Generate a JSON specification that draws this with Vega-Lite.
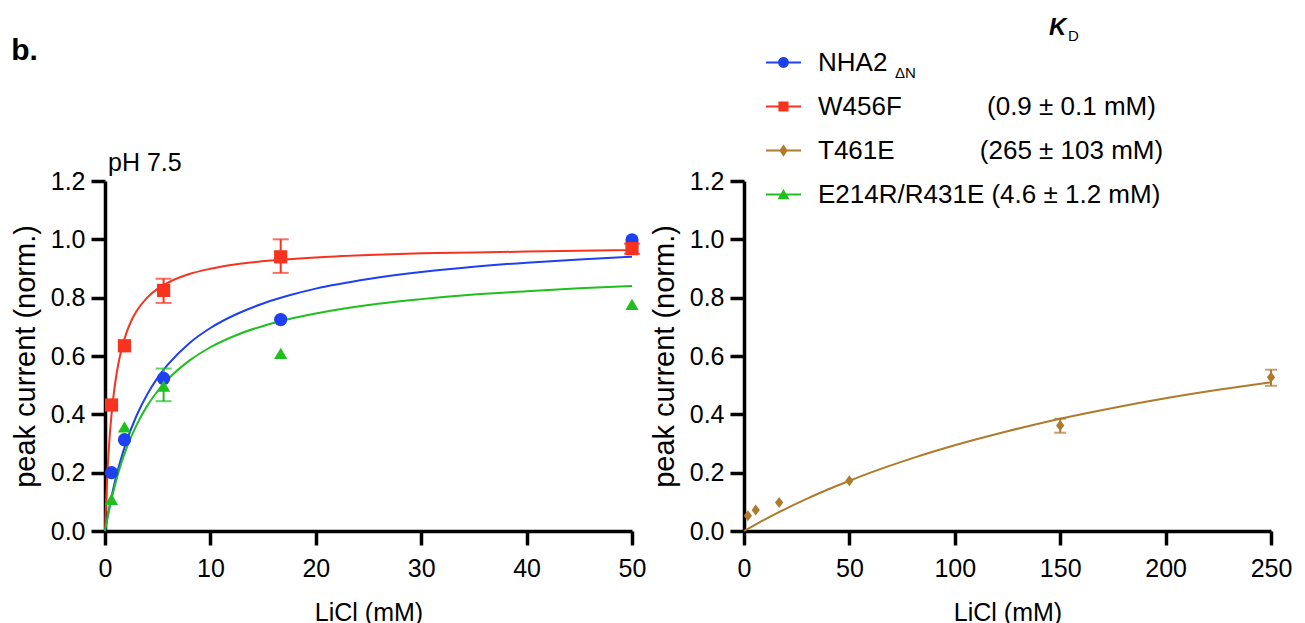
{
  "$schema": "https://vega.github.io/schema/vega-lite/v6.json",
  "background": "white",
  "padding": {"left": 11, "top": 28, "right": 5, "bottom": 0},
  "title": {"text": "b.", "anchor": "start", "frame": "bounds", "fontSize": 30, "fontWeight": "bold", "font": "Liberation Sans", "color": "black", "offset": -38},
  "spacing": 4,
  "resolve": {
    "scale": {"color": "independent", "shape": "independent", "opacity": "independent", "size": "independent", "strokeWidth": "independent"},
    "legend": {"color": "independent", "shape": "independent", "opacity": "independent", "size": "independent", "strokeWidth": "independent"}
  },
  "config": {
    "view": {"stroke": null},
    "font": "Liberation Sans",
    "axis": {
      "domainColor": "black", "domainWidth": 3.5, "tickColor": "black", "tickWidth": 3.5, "tickSize": 14,
      "labelFont": "Liberation Sans", "labelFontSize": 25, "labelColor": "black",
      "titleFont": "Liberation Sans", "titleFontSize": 25, "titleFontWeight": "normal", "titleColor": "black",
      "grid": false, "labelFlush": false, "labelOverlap": false
    },
    "axisX": {"labelPadding": 11, "titlePadding": 19},
    "axisY": {"labelPadding": 6, "titlePadding": 10, "titleFontSize": 29},
    "title": {"font": "Liberation Sans", "color": "black", "subtitleFont": "Liberation Sans", "subtitleColor": "black"}
  },
  "datasets": {
    "pts": [
      {"series": "NHA2", "x": 0.617, "y": 0.2, "lo": null, "hi": null},
      {"series": "NHA2", "x": 1.85, "y": 0.313, "lo": null, "hi": null},
      {"series": "NHA2", "x": 5.56, "y": 0.523, "lo": null, "hi": null},
      {"series": "NHA2", "x": 16.67, "y": 0.725, "lo": null, "hi": null},
      {"series": "NHA2", "x": 50, "y": 0.998, "lo": null, "hi": null},
      {"series": "W456F", "x": 0.617, "y": 0.432, "lo": null, "hi": null},
      {"series": "W456F", "x": 1.85, "y": 0.635, "lo": null, "hi": null},
      {"series": "W456F", "x": 5.56, "y": 0.825, "lo": 0.782, "hi": 0.865},
      {"series": "W456F", "x": 16.67, "y": 0.94, "lo": 0.885, "hi": 1.0},
      {"series": "W456F", "x": 50, "y": 0.968, "lo": 0.95, "hi": 0.985},
      {"series": "E214R/R431E", "x": 0.617, "y": 0.109, "lo": null, "hi": null},
      {"series": "E214R/R431E", "x": 1.85, "y": 0.357, "lo": null, "hi": null},
      {"series": "E214R/R431E", "x": 5.56, "y": 0.497, "lo": 0.445, "hi": 0.557},
      {"series": "E214R/R431E", "x": 16.67, "y": 0.609, "lo": null, "hi": null},
      {"series": "E214R/R431E", "x": 50, "y": 0.777, "lo": null, "hi": null},
      {"series": "T461E", "x": 1.85, "y": 0.052, "lo": null, "hi": null},
      {"series": "T461E", "x": 5.56, "y": 0.072, "lo": null, "hi": null},
      {"series": "T461E", "x": 16.67, "y": 0.098, "lo": null, "hi": null},
      {"series": "T461E", "x": 50, "y": 0.172, "lo": null, "hi": null},
      {"series": "T461E", "x": 150, "y": 0.362, "lo": 0.337, "hi": 0.385},
      {"series": "T461E", "x": 250, "y": 0.527, "lo": 0.498, "hi": 0.553}
    ],
    "fit": [
      {"series": "W456F", "x": 0, "y": 0},
      {"series": "W456F", "x": 0.1, "y": 0.098},
      {"series": "W456F", "x": 0.2, "y": 0.178},
      {"series": "W456F", "x": 0.4, "y": 0.302},
      {"series": "W456F", "x": 0.6, "y": 0.392},
      {"series": "W456F", "x": 0.8, "y": 0.461},
      {"series": "W456F", "x": 1, "y": 0.516},
      {"series": "W456F", "x": 1.25, "y": 0.57},
      {"series": "W456F", "x": 1.5, "y": 0.613},
      {"series": "W456F", "x": 2, "y": 0.676},
      {"series": "W456F", "x": 2.5, "y": 0.721},
      {"series": "W456F", "x": 3, "y": 0.754},
      {"series": "W456F", "x": 4, "y": 0.8},
      {"series": "W456F", "x": 5, "y": 0.831},
      {"series": "W456F", "x": 6, "y": 0.852},
      {"series": "W456F", "x": 8, "y": 0.881},
      {"series": "W456F", "x": 10, "y": 0.899},
      {"series": "W456F", "x": 13, "y": 0.917},
      {"series": "W456F", "x": 16, "y": 0.928},
      {"series": "W456F", "x": 20, "y": 0.938},
      {"series": "W456F", "x": 25, "y": 0.946},
      {"series": "W456F", "x": 30, "y": 0.952},
      {"series": "W456F", "x": 35, "y": 0.955},
      {"series": "W456F", "x": 40, "y": 0.958},
      {"series": "W456F", "x": 45, "y": 0.961},
      {"series": "W456F", "x": 50, "y": 0.963},
      {"series": "NHA2", "x": 0, "y": 0},
      {"series": "NHA2", "x": 0.25, "y": 0.051},
      {"series": "NHA2", "x": 0.5, "y": 0.097},
      {"series": "NHA2", "x": 1, "y": 0.178},
      {"series": "NHA2", "x": 1.5, "y": 0.245},
      {"series": "NHA2", "x": 2, "y": 0.303},
      {"series": "NHA2", "x": 3, "y": 0.396},
      {"series": "NHA2", "x": 4, "y": 0.468},
      {"series": "NHA2", "x": 5, "y": 0.526},
      {"series": "NHA2", "x": 6, "y": 0.572},
      {"series": "NHA2", "x": 8, "y": 0.644},
      {"series": "NHA2", "x": 10, "y": 0.696},
      {"series": "NHA2", "x": 12.5, "y": 0.744},
      {"series": "NHA2", "x": 15, "y": 0.78},
      {"series": "NHA2", "x": 17.5, "y": 0.808},
      {"series": "NHA2", "x": 20, "y": 0.831},
      {"series": "NHA2", "x": 25, "y": 0.864},
      {"series": "NHA2", "x": 30, "y": 0.888},
      {"series": "NHA2", "x": 35, "y": 0.906},
      {"series": "NHA2", "x": 40, "y": 0.92},
      {"series": "NHA2", "x": 45, "y": 0.931},
      {"series": "NHA2", "x": 50, "y": 0.94},
      {"series": "E214R/R431E", "x": 0, "y": 0},
      {"series": "E214R/R431E", "x": 0.25, "y": 0.048},
      {"series": "E214R/R431E", "x": 0.5, "y": 0.091},
      {"series": "E214R/R431E", "x": 1, "y": 0.165},
      {"series": "E214R/R431E", "x": 1.5, "y": 0.227},
      {"series": "E214R/R431E", "x": 2, "y": 0.28},
      {"series": "E214R/R431E", "x": 3, "y": 0.364},
      {"series": "E214R/R431E", "x": 4, "y": 0.429},
      {"series": "E214R/R431E", "x": 5, "y": 0.48},
      {"series": "E214R/R431E", "x": 6, "y": 0.521},
      {"series": "E214R/R431E", "x": 8, "y": 0.584},
      {"series": "E214R/R431E", "x": 10, "y": 0.63},
      {"series": "E214R/R431E", "x": 12.5, "y": 0.672},
      {"series": "E214R/R431E", "x": 15, "y": 0.703},
      {"series": "E214R/R431E", "x": 17.5, "y": 0.727},
      {"series": "E214R/R431E", "x": 20, "y": 0.746},
      {"series": "E214R/R431E", "x": 25, "y": 0.775},
      {"series": "E214R/R431E", "x": 30, "y": 0.795},
      {"series": "E214R/R431E", "x": 35, "y": 0.811},
      {"series": "E214R/R431E", "x": 40, "y": 0.822},
      {"series": "E214R/R431E", "x": 45, "y": 0.832},
      {"series": "E214R/R431E", "x": 50, "y": 0.84},
      {"series": "T461E", "x": 0, "y": 0},
      {"series": "T461E", "x": 5, "y": 0.02},
      {"series": "T461E", "x": 10, "y": 0.04},
      {"series": "T461E", "x": 20, "y": 0.077},
      {"series": "T461E", "x": 30, "y": 0.111},
      {"series": "T461E", "x": 40, "y": 0.143},
      {"series": "T461E", "x": 50, "y": 0.172},
      {"series": "T461E", "x": 60, "y": 0.2},
      {"series": "T461E", "x": 80, "y": 0.25},
      {"series": "T461E", "x": 100, "y": 0.294},
      {"series": "T461E", "x": 125, "y": 0.342},
      {"series": "T461E", "x": 150, "y": 0.385},
      {"series": "T461E", "x": 175, "y": 0.422},
      {"series": "T461E", "x": 200, "y": 0.455},
      {"series": "T461E", "x": 225, "y": 0.484},
      {"series": "T461E", "x": 250, "y": 0.51}
    ],
    "legend": [
      {"series": "NHA2", "sub": "\u0394N", "kdK": "K", "kdD": "D"},
      {"series": "W456F", "sub": null, "kdK": null, "kdD": null},
      {"series": "T461E", "sub": null, "kdK": null, "kdD": null},
      {"series": "E214R/R431E", "sub": null, "kdK": null, "kdD": null}
    ]
  },
  "hconcat": [
    {
      "width": 527,
      "height": 350,
      "title": {"text": "pH 7.5", "anchor": "start", "frame": "group", "dx": 3, "fontSize": 25, "fontWeight": "normal", "offset": -7},
      "encoding": {
        "x": {"field": "x", "type": "quantitative", "title": "LiCl (mM)", "scale": {"domain": [0, 50], "nice": false}, "axis": {"values": [0, 10, 20, 30, 40, 50]}},
        "y": {"field": "y", "type": "quantitative", "title": "peak current (norm.)", "scale": {"domain": [0, 1.2], "nice": false}, "axis": {"values": [0, 0.2, 0.4, 0.6, 0.8, 1.0, 1.2], "format": ".1f"}},
        "color": {"field": "series", "type": "nominal", "scale": {"domain": ["NHA2", "W456F", "E214R/R431E"], "range": ["#1f40f0", "#f6331f", "#1fbf1f"]}, "legend": null}
      },
      "layer": [
        {
          "data": {"name": "fit"},
          "transform": [{"filter": "datum.series != 'T461E'"}],
          "mark": {"type": "line", "strokeWidth": 2, "interpolate": "monotone"}
        },
        {
          "data": {"name": "pts"},
          "transform": [{"filter": "datum.series != 'T461E' && datum.lo != null"}],
          "mark": {"type": "rule", "strokeWidth": 2},
          "encoding": {"y": {"field": "lo", "type": "quantitative", "title": "peak current (norm.)"}, "y2": {"field": "hi"}}
        },
        {
          "data": {"name": "pts"},
          "transform": [{"filter": "datum.series != 'T461E' && datum.lo != null"}],
          "mark": {"type": "tick", "orient": "horizontal", "size": 16, "thickness": 2},
          "encoding": {"y": {"field": "lo", "type": "quantitative", "title": "peak current (norm.)"}}
        },
        {
          "data": {"name": "pts"},
          "transform": [{"filter": "datum.series != 'T461E' && datum.lo != null"}],
          "mark": {"type": "tick", "orient": "horizontal", "size": 16, "thickness": 2},
          "encoding": {"y": {"field": "hi", "type": "quantitative", "title": "peak current (norm.)"}}
        },
        {
          "data": {"name": "pts"},
          "transform": [{"filter": "datum.series != 'T461E'"}],
          "mark": {"type": "point", "filled": true, "opacity": 1, "size": 175, "strokeWidth": 0},
          "encoding": {
            "shape": {"field": "series", "type": "nominal", "scale": {"domain": ["NHA2", "W456F", "E214R/R431E"], "range": ["circle", "square", "triangle-up"]}, "legend": null}
          }
        }
      ]
    },
    {
      "width": 527,
      "height": 350,
      "encoding": {
        "x": {"field": "x", "type": "quantitative", "title": "LiCl (mM)", "scale": {"domain": [0, 250], "nice": false}, "axis": {"values": [0, 50, 100, 150, 200, 250]}},
        "y": {"field": "y", "type": "quantitative", "title": "peak current (norm.)", "scale": {"domain": [0, 1.2], "nice": false}, "axis": {"values": [0, 0.2, 0.4, 0.6, 0.8, 1.0, 1.2], "format": ".1f"}}
      },
      "layer": [
        {
          "data": {"name": "fit"},
          "transform": [{"filter": "datum.series == 'T461E'"}],
          "mark": {"type": "line", "strokeWidth": 2, "interpolate": "monotone", "color": "#ad7b2b"}
        },
        {
          "data": {"name": "pts"},
          "transform": [{"filter": "datum.series == 'T461E' && datum.lo != null"}],
          "mark": {"type": "rule", "strokeWidth": 2, "color": "#ad7b2b"},
          "encoding": {"y": {"field": "lo", "type": "quantitative", "title": "peak current (norm.)"}, "y2": {"field": "hi"}}
        },
        {
          "data": {"name": "pts"},
          "transform": [{"filter": "datum.series == 'T461E' && datum.lo != null"}],
          "mark": {"type": "tick", "orient": "horizontal", "size": 12, "thickness": 2, "color": "#ad7b2b"},
          "encoding": {"y": {"field": "lo", "type": "quantitative", "title": "peak current (norm.)"}}
        },
        {
          "data": {"name": "pts"},
          "transform": [{"filter": "datum.series == 'T461E' && datum.lo != null"}],
          "mark": {"type": "tick", "orient": "horizontal", "size": 12, "thickness": 2, "color": "#ad7b2b"},
          "encoding": {"y": {"field": "hi", "type": "quantitative", "title": "peak current (norm.)"}}
        },
        {
          "data": {"name": "pts"},
          "transform": [{"filter": "datum.series == 'T461E'"}],
          "mark": {"type": "point", "filled": true, "opacity": 1, "size": 121, "strokeWidth": 0, "color": "#ad7b2b", "shape": "M0,-1L0.75,0L0,1L-0.75,0Z"}
        },
        {
          "data": {"name": "legend"},
          "mark": {"type": "point", "filled": true, "opacity": 1},
          "encoding": {
            "color": {"field": "series", "type": "nominal", "scale": {"domain": ["NHA2", "W456F", "T461E", "E214R/R431E"], "range": ["#1f40f0", "#f6331f", "#ad7b2b", "#1fbf1f"]},
              "legend": {"orient": "none", "legendX": 22, "legendY": -136, "title": null, "padding": 0, "labelFont": "Liberation Sans", "labelFontSize": 26, "labelColor": "black", "labelLimit": 700, "symbolSize": 1225, "symbolStrokeWidth": 0, "symbolOpacity": 1, "rowPadding": 13, "labelOffset": 17,
                "labelExpr": "datum.label == 'W456F' ? 'W456F\u2003\u2003\u2003\u00a0(0.9 \u00b1 0.1 mM)' : datum.label == 'T461E' ? 'T461E\u2003\u2003\u2003\u00a0(265 \u00b1 103 mM)' : datum.label == 'E214R/R431E' ? 'E214R/R431E (4.6 \u00b1 1.2 mM)' : datum.label"}},
            "shape": {"field": "series", "type": "nominal", "scale": {"domain": ["NHA2", "W456F", "T461E", "E214R/R431E"], "range": [
                "M-1,-0.057H1V0.057H-1Z M-0.31,0A0.31,0.31,0,1,1,0.31,0A0.31,0.31,0,1,1,-0.31,0Z",
                "M-1,-0.057H1V0.057H-1Z M-0.29,-0.29H0.29V0.29H-0.29Z",
                "M-1,-0.057H1V0.057H-1Z M0,-0.35L0.24,0L0,0.35L-0.24,0Z",
                "M-1,-0.057H1V0.057H-1Z M0,-0.32L0.34,0.27L-0.34,0.27Z"
              ]},
              "legend": {"orient": "none", "legendX": 22, "legendY": -136, "title": null, "padding": 0, "labelFont": "Liberation Sans", "labelFontSize": 26, "labelColor": "black", "labelLimit": 700, "symbolSize": 1225, "symbolStrokeWidth": 0, "symbolOpacity": 1, "rowPadding": 13, "labelOffset": 17,
                "labelExpr": "datum.label == 'W456F' ? 'W456F\u2003\u2003\u2003\u00a0(0.9 \u00b1 0.1 mM)' : datum.label == 'T461E' ? 'T461E\u2003\u2003\u2003\u00a0(265 \u00b1 103 mM)' : datum.label == 'E214R/R431E' ? 'E214R/R431E (4.6 \u00b1 1.2 mM)' : datum.label"}},
            "opacity": {"field": "sub", "type": "nominal", "scale": {"domain": ["\u0394N"], "range": [1]},
              "legend": {"orient": "none", "legendX": 136, "legendY": -116, "title": null, "padding": 0, "labelFont": "Liberation Sans", "labelFontSize": 15, "labelColor": "black", "symbolSize": 0, "symbolOpacity": 0, "labelOffset": 0}},
            "size": {"field": "kdK", "type": "nominal", "scale": {"domain": ["K"], "range": [1]},
              "legend": {"orient": "none", "legendX": 305, "legendY": -153, "title": null, "padding": 0, "labelFont": "Liberation Sans", "labelFontSize": 24, "labelFontStyle": "italic", "labelFontWeight": "bold", "labelColor": "black", "symbolOpacity": 0, "symbolStrokeWidth": 0, "labelOffset": 0}},
            "strokeWidth": {"field": "kdD", "type": "nominal", "scale": {"domain": ["D"], "range": [0]},
              "legend": {"orient": "none", "legendX": 324, "legendY": -145, "title": null, "padding": 0, "labelFont": "Liberation Sans", "labelFontSize": 15, "labelColor": "black", "symbolSize": 0, "symbolOpacity": 0, "labelOffset": 0}}
          }
        }
      ]
    }
  ]
}
